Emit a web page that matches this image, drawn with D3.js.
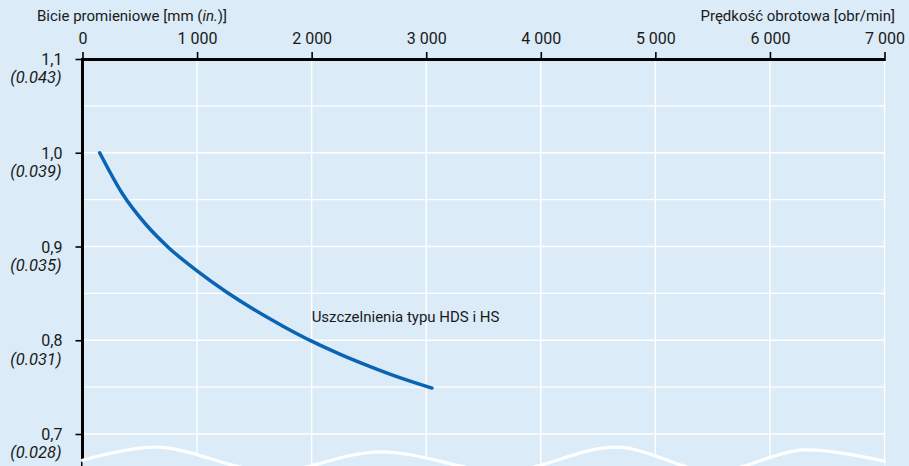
<!DOCTYPE html>
<html>
<head>
<meta charset="utf-8">
<script src="https://cdn.jsdelivr.net/npm/d3@7"></script>
<style>
  html, body { margin: 0; padding: 0; background: #dbebf7; }
  svg { display: block; }
  text { font-family: Roboto, "Noto Sans", sans-serif; fill: #1a1a1a; }
</style>
</head>
<body>
<svg id="chart" width="909" height="466"></svg>
<script>
// ---- data ----
const xTicks = [0, 1000, 2000, 3000, 4000, 5000, 6000, 7000];
const xTickLabels = ["0", "1 000", "2 000", "3 000", "4 000", "5 000", "6 000", "7 000"];
const yTicks = [0.7, 0.8, 0.9, 1.0, 1.1];
const yTickLabels = ["0,7", "0,8", "0,9", "1,0", "1,1"];
const yTickInch = ["(0.028)", "(0.031)", "(0.035)", "(0.039)", "(0.043)"];
const yGrid = [0.7, 0.75, 0.8, 0.85, 0.9, 0.95, 1.0, 1.05];
const speed = [150, 350, 550, 750, 1000, 1250, 1500, 1750, 2000, 2250, 2500, 2750, 3050];
const runout = [1.000, 0.956, 0.924, 0.899, 0.874, 0.852, 0.8325, 0.815, 0.799, 0.785, 0.7725, 0.761, 0.749];
const seriesLabel = "Uszczelnienia typu HDS i HS";
const labelSpeed = 2000, labelRunout = 0.8195;
// decorative axis-break wave (speed, value)
const waveSpeed = [0, 650, 1640, 2600, 3690, 4660, 5500, 6290, 7000];
const waveVal = [0.672, 0.686, 0.660, 0.681, 0.660, 0.686, 0.660, 0.683, 0.671];

const W = 909, H = 466;
const bg = "#dbebf7";
const svg = d3.select("#chart");
svg.append("rect").attr("width", W).attr("height", H).attr("fill", bg);

const x = d3.scaleLinear().domain([0, 7000]).range([82.5, 884.5]);
const y = d3.scaleLinear().domain([0.7, 1.1]).range([434, 59]);

// grid
const g = svg.append("g");
g.selectAll(".hg").data(yGrid).enter().append("line")
  .attr("x1", x(0)).attr("x2", x(7000))
  .attr("y1", d => y(d)).attr("y2", d => y(d))
  .attr("stroke", "#fff").attr("stroke-width", 1.4);
g.selectAll(".vg").data(xTicks.slice(1)).enter().append("line")
  .attr("x1", d => x(d)).attr("x2", d => x(d))
  .attr("y1", y(1.1)).attr("y2", H)
  .attr("stroke", "#fff").attr("stroke-width", 1.4);

// y axis line (left)
svg.append("line").attr("x1", x(0)).attr("x2", x(0))
  .attr("y1", y(1.1) - 1).attr("y2", H)
  .attr("stroke", "#000").attr("stroke-width", 3);

// wave break: cover below with background then white stroke
const wavePts = waveSpeed.map((s, i) => [x(s), y(waveVal[i])]);
const waveLine = d3.line().curve(d3.curveCatmullRom.alpha(0.5));
const areaGen = d3.area().x(d => d[0]).y0(H + 5).y1(d => d[1]).curve(d3.curveCatmullRom.alpha(0.5));
svg.append("path").datum(wavePts).attr("d", areaGen).attr("fill", bg).attr("stroke", "none");
svg.append("path").datum(wavePts).attr("d", waveLine)
  .attr("fill", "none").attr("stroke", "#fff").attr("stroke-width", 3.2).attr("stroke-linecap", "round");

// top x axis
const xAxis = d3.axisTop(x).tickValues(xTicks).tickFormat((d, i) => xTickLabels[i]).tickSize(7).tickSizeOuter(0).tickPadding(8);
const xa = svg.append("g").attr("transform", `translate(0,${y(1.1)})`).call(xAxis);
xa.select(".domain").attr("stroke", "#000").attr("stroke-width", 3);
xa.selectAll(".tick line").attr("stroke", "#000").attr("stroke-width", 1.6).attr("y2", 2).attr("y1", -7);
xa.selectAll(".tick text").attr("font-size", 16).attr("fill", "#1a1a1a").attr("font-family", "Roboto, sans-serif");

// left y axis ticks
const yAxis = d3.axisLeft(y).tickValues(yTicks).tickFormat((d, i) => yTickLabels[i]).tickSize(7).tickSizeOuter(0).tickPadding(13);
const ya = svg.append("g").attr("transform", `translate(${x(0)},0)`).call(yAxis);
ya.select(".domain").remove();
ya.selectAll(".tick line").attr("stroke", "#000").attr("stroke-width", 1.6);
ya.selectAll(".tick text").attr("font-size", 16).attr("fill", "#1a1a1a").attr("font-family", "Roboto, sans-serif").attr("dy", "0.35em");
ya.selectAll(".tick").append("text")
  .attr("x", -21).attr("y", 0).attr("dy", "1.45em")
  .attr("text-anchor", "end").attr("font-style", "italic")
  .attr("font-size", 16.5).attr("fill", "#1a1a1a").attr("font-family", "Roboto, sans-serif")
  .text((d, i) => yTickInch[i]);

// series line
const line = d3.line().x((d, i) => x(speed[i])).y(d => y(d)).curve(d3.curveMonotoneX);
svg.append("path").datum(runout).attr("d", line)
  .attr("fill", "none").attr("stroke", "#0a64b4").attr("stroke-width", 3.5).attr("stroke-linecap", "round");

svg.append("text").attr("x", x(labelSpeed)).attr("y", y(labelRunout))
  .attr("font-size", 15).text(seriesLabel);

// axis titles
const t1 = svg.append("text").attr("x", 37).attr("y", 21).attr("font-size", 15);
t1.append("tspan").text("Bicie promieniowe [mm (");
t1.append("tspan").attr("font-style", "italic").text("in.");
t1.append("tspan").text(")]");
svg.append("text").attr("x", 895).attr("y", 21).attr("text-anchor", "end").attr("font-size", 15)
  .text("Prędkość obrotowa [obr/min]");
</script>
</body>
</html>
